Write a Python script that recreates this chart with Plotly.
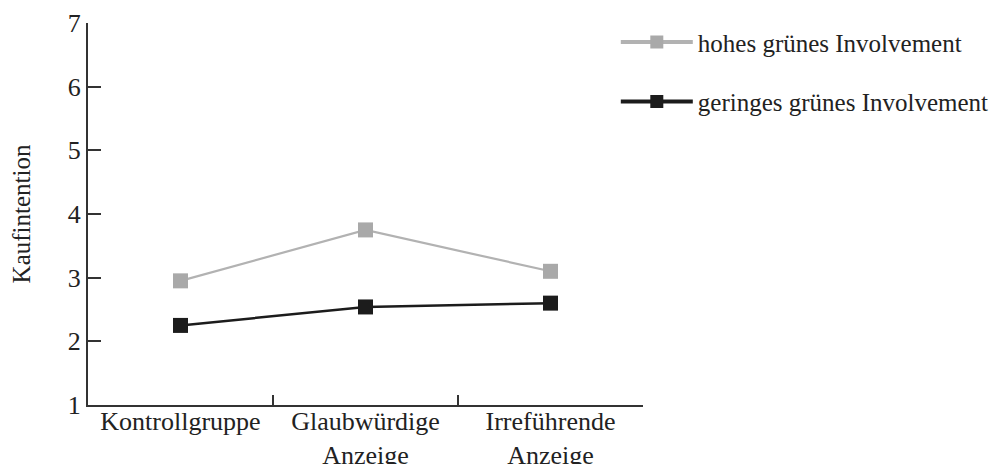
import plotly.graph_objects as go

categories = ["Kontrollgruppe", "Glaubwürdige<br>Anzeige", "Irreführende<br>Anzeige"]
series_names = ["hohes grünes Involvement", "geringes grünes Involvement"]
hohes = [2.95, 3.75, 3.10]
geringes = [2.25, 2.54, 2.60]
y_ticks = [1, 2, 3, 4, 5, 6, 7]

FONT = "Liberation Serif"
GRAY_LINE = "#b2b2b2"
GRAY_MARK = "#a9a9a9"
BLACK = "#1c1c1c"

fig = go.Figure()
fig.add_trace(go.Scatter(
    x=categories, y=hohes, name=series_names[0], mode="lines+markers",
    line=dict(color=GRAY_LINE, width=2.2),
    marker=dict(symbol="square", size=15, color=GRAY_MARK),
    showlegend=False,
))
fig.add_trace(go.Scatter(
    x=categories, y=geringes, name=series_names[1], mode="lines+markers",
    line=dict(color=BLACK, width=2.5),
    marker=dict(symbol="square", size=15, color=BLACK),
    showlegend=False,
))
# legend entries (thicker legend line as in the reference)
fig.add_trace(go.Scatter(
    x=[None], y=[None], name=series_names[0], mode="lines+markers",
    line=dict(color=GRAY_LINE, width=4),
    marker=dict(symbol="square", size=13, color=GRAY_MARK),
    legendgroup="a",
))
fig.add_trace(go.Scatter(
    x=[None], y=[None], name=series_names[1], mode="lines+markers",
    line=dict(color=BLACK, width=4),
    marker=dict(symbol="square", size=13, color=BLACK),
    legendgroup="b",
))

fig.update_layout(
    width=989, height=456,
    margin=dict(l=80, r=354, t=15, b=59, autoexpand=False),
    paper_bgcolor="white", plot_bgcolor="white",
    font=dict(family=FONT, size=26, color="#222222"),
    legend=dict(x=0.951, y=1.01, xanchor="left", yanchor="top",
                font=dict(family=FONT, size=25, color="#222222"),
                tracegroupgap=24, itemwidth=72, bgcolor="rgba(0,0,0,0)"),
    xaxis=dict(
        type="category", range=[-0.5, 2.5], tickson="boundaries",
        ticks="inside", ticklen=10, tickwidth=2, tickcolor="#333333",
        showline=True, linecolor="#333333", linewidth=2,
        showgrid=False, zeroline=False, automargin=False,
        ticklabelstandoff=-8,
        tickfont=dict(family=FONT, size=26, color="#222222"),
    ),
    yaxis=dict(
        range=[1, 7], tickvals=y_ticks, ticks="inside", ticklen=13, tickwidth=2,
        tickcolor="#333333", showline=True, linecolor="#333333", linewidth=2,
        showgrid=False, zeroline=False, automargin=False,
        tickfont=dict(family=FONT, size=26, color="#222222"),
        title=dict(text="Kaufintention", font=dict(family=FONT, size=25, color="#222222"), standoff=30),
    ),
)
fig.write_html("out.html")
